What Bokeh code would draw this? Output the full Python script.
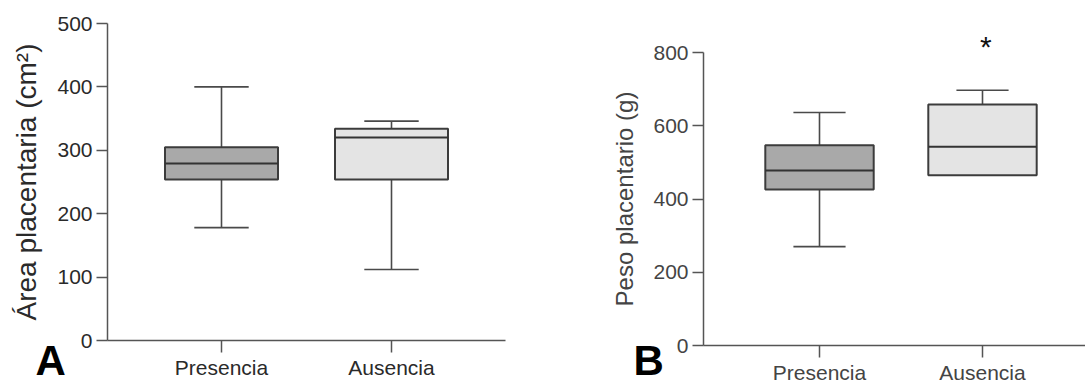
from bokeh.plotting import figure
from bokeh.layouts import row
from bokeh.models import FixedTicker, Label, Range1d
from bokeh.embed import file_html
from bokeh.resources import INLINE

# ---------------- data ----------------
categories = ["Presencia", "Ausencia"]

# Panel A: Área placentaria (cm²)
a_low = [178, 112]
a_q1 = [254, 254]
a_median = [279, 320]
a_q3 = [305, 334]
a_high = [400, 346]
a_yticks = [0, 100, 200, 300, 400, 500]

# Panel B: Peso placentario (g)
b_low = [270, 465]
b_q1 = [426, 465]
b_median = [478, 543]
b_q3 = [547, 658]
b_high = [636, 697]
b_yticks = [0, 200, 400, 600, 800]
b_signif = ["", "*"]

fills = ["#a9a9a9", "#e4e4e4"]
FONT = "Liberation Sans"
H = 383


class Mapper:
    """Pixel <-> data mapping used to lay out a panel (layout only)."""

    def __init__(self, width, axis_px, cat1_px, cat_step_px, y0_px, ytop_px, ytop_val):
        self.c1 = cat1_px
        self.step = cat_step_px
        self.y0 = y0_px
        self.k = (y0_px - ytop_px) / ytop_val
        self.xr = (self.x(0), self.x(width))
        self.yr = (self.y(H), self.y(0))
        self.axis_x = self.x(axis_px)

    def x(self, px):
        return 1 + (px - self.c1) / self.step

    def y(self, py):
        return (self.y0 - py) / self.k


def make_panel(width, m, x_bound_end, ytop_val, yticks, ylabel, ylabel_size,
               low, q1, med, q3, high, tick_color, label_standoff):
    p = figure(width=width, height=H, output_backend="svg", toolbar_location=None,
               title=None, x_range=Range1d(*m.xr), y_range=Range1d(*m.yr),
               min_border_left=0, min_border_right=0, min_border_top=0,
               min_border_bottom=0)
    p.xgrid.visible = False
    p.ygrid.visible = False
    p.outline_line_color = None
    p.background_fill_color = "white"
    p.border_fill_color = "white"

    xs = [i + 1 for i in range(len(categories))]
    bw = 0.665
    cw = 0.32
    wc = "#4a4a4a"
    # whiskers
    p.segment(x0=xs, y0=q3, x1=xs, y1=high, line_color=wc, line_width=1.6)
    p.segment(x0=xs, y0=q1, x1=xs, y1=low, line_color=wc, line_width=1.6)
    # caps
    p.segment(x0=[x - cw / 2 for x in xs], y0=high, x1=[x + cw / 2 for x in xs], y1=high,
              line_color=wc, line_width=1.6)
    p.segment(x0=[x - cw / 2 for x in xs], y0=low, x1=[x + cw / 2 for x in xs], y1=low,
              line_color=wc, line_width=1.6)
    # boxes
    p.vbar(x=xs, width=bw, bottom=q1, top=q3, fill_color=fills,
           line_color="#3c3c3c", line_width=2)
    # medians
    p.segment(x0=[x - bw / 2 for x in xs], y0=med, x1=[x + bw / 2 for x in xs], y1=med,
              line_color="#333333", line_width=2)

    for ax in (p.xaxis[0], p.yaxis[0]):
        ax.axis_line_color = "#555555"
        ax.axis_line_width = 1.5
        ax.major_tick_line_color = "#555555"
        ax.major_tick_line_width = 1.5
        ax.major_tick_in = 0
        ax.minor_tick_line_color = None
        ax.major_label_text_font = FONT
        ax.major_label_text_font_size = "21px"
        ax.major_label_text_color = tick_color

    p.xaxis.fixed_location = 0
    p.xaxis.bounds = (m.axis_x, x_bound_end)
    p.xaxis.ticker = FixedTicker(ticks=xs, minor_ticks=[])
    p.xaxis.major_label_overrides = {x: c for x, c in zip(xs, categories)}
    p.xaxis.major_tick_out = 12
    p.xaxis.major_label_standoff = 3

    p.yaxis.fixed_location = m.axis_x
    p.yaxis.bounds = (0, ytop_val)
    p.yaxis.ticker = FixedTicker(ticks=yticks, minor_ticks=[])
    p.yaxis.major_tick_out = 11
    p.yaxis.major_label_standoff = 4
    p.yaxis.axis_label = ylabel
    p.yaxis.axis_label_text_font = FONT
    p.yaxis.axis_label_text_font_style = "normal"
    p.yaxis.axis_label_text_font_size = ylabel_size
    p.yaxis.axis_label_text_color = tick_color
    p.yaxis.axis_label_standoff = label_standoff
    return p


# ---- panel A ----
WA = 540
mA = Mapper(WA, 107, 221, 170, 340, 23, 500)
pA = make_panel(WA, mA, mA.x(505), 500, a_yticks, "Área placentaria (cm²)", "28px",
                a_low, a_q1, a_median, a_q3, a_high, "#2a2a2a", 12)
pA.add_layout(Label(x=mA.x(35), y=mA.y(336), text="A",
                    text_font=FONT, text_font_style="bold", text_font_size="42px",
                    text_color="black", text_baseline="top"))

# ---- panel B ----
WB = 545
mB = Mapper(WB, 163, 279, 163, 345, 52, 800)
pB = make_panel(WB, mB, mB.xr[1], 800, b_yticks, "Peso placentario (g)", "24px",
                b_low, b_q1, b_median, b_q3, b_high, "#444444", 12)
pB.add_layout(Label(x=mB.x(93), y=mB.y(336), text="B",
                    text_font=FONT, text_font_style="bold", text_font_size="42px",
                    text_color="black", text_baseline="top"))
for i, s in enumerate(b_signif):
    if s:
        pB.add_layout(Label(x=i + 1.02, y=mB.y(46), text=s, text_font=FONT,
                            text_font_size="30px", text_color="#111111",
                            text_align="center", text_baseline="middle"))

layout = row(pA, pB)
open("out.html", "w").write(file_html(layout, INLINE))
